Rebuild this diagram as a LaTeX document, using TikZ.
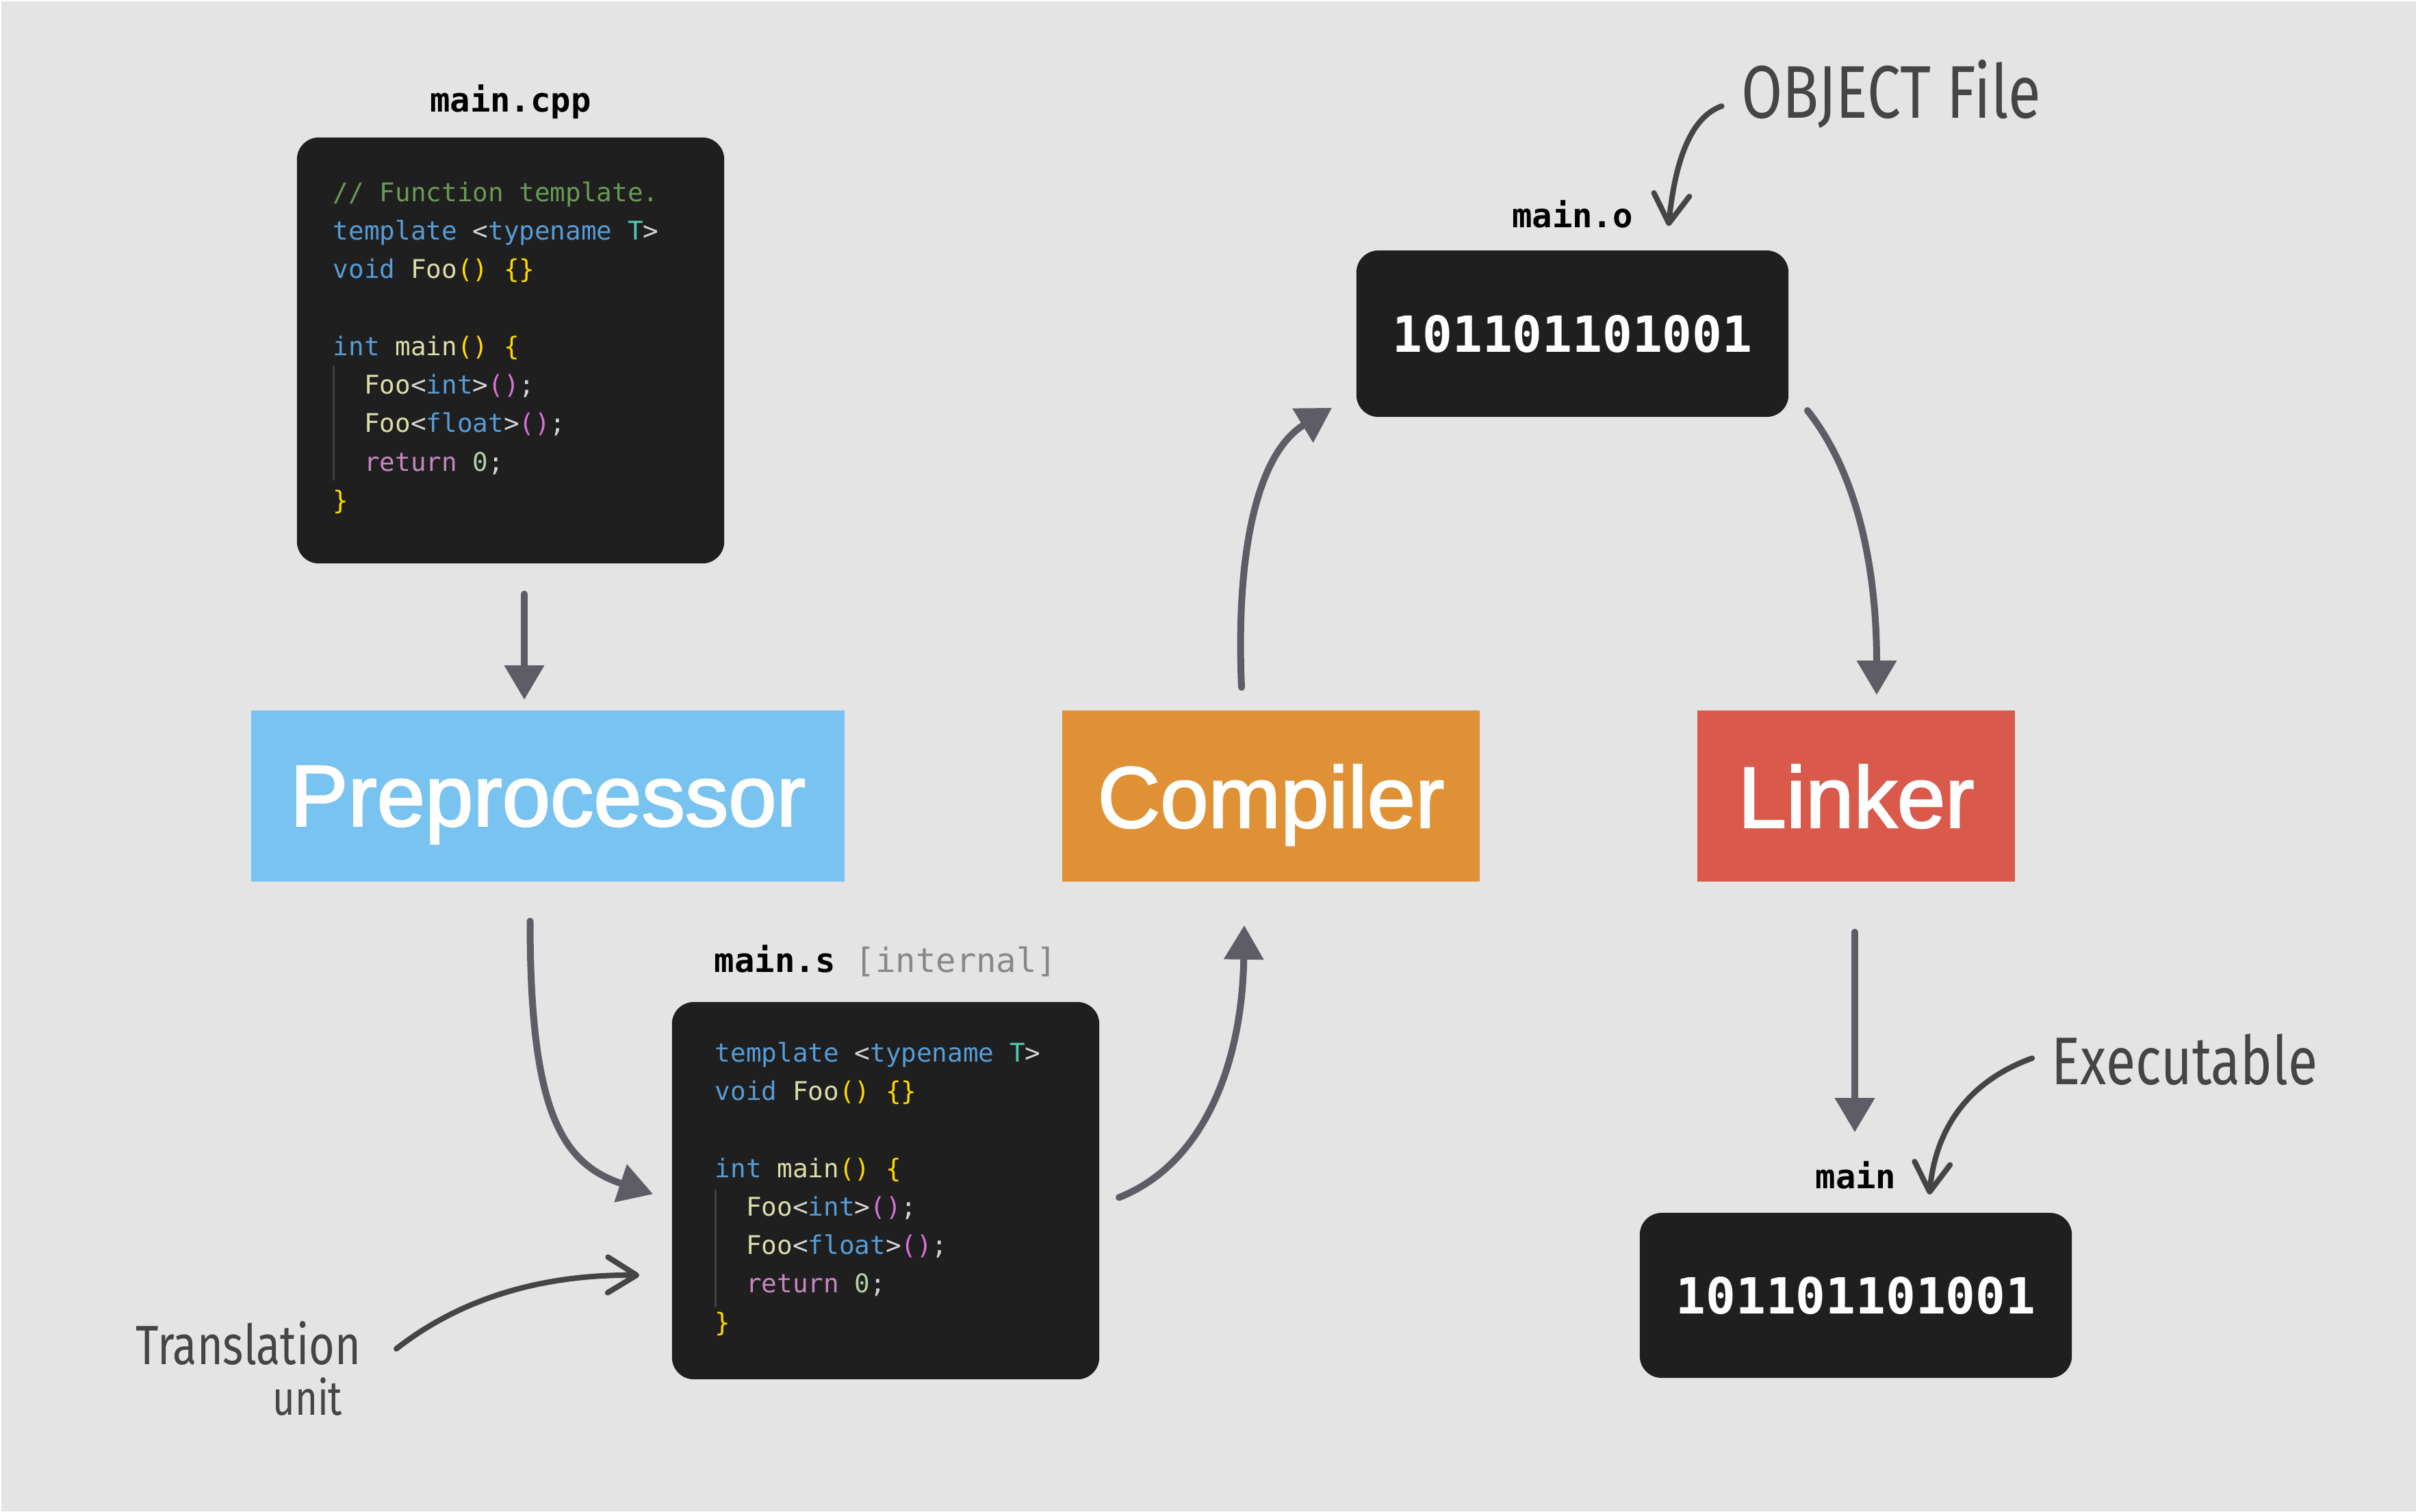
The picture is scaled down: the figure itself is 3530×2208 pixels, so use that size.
\documentclass[tikz,border=0pt]{standalone}
\usepackage{fontspec}
\setmonofont{DejaVu Sans Mono}
\newfontfamily\stagefont{Liberation Sans}[FakeBold=2]
\newfontfamily\handfont{Fira Sans}[FakeStretch=0.8]
\usetikzlibrary{arrows.meta, calc, positioning}

\definecolor{bggray}{HTML}{E4E4E4}
\definecolor{boxblack}{HTML}{1F1F1F}
\definecolor{flowgray}{HTML}{5E5D66}
\definecolor{notegray}{HTML}{454545}
\definecolor{preblue}{HTML}{78C3F0}
\definecolor{comporange}{HTML}{E09136}
\definecolor{linkred}{HTML}{D9594A}
\definecolor{kwblue}{HTML}{569CD6}
\definecolor{tpteal}{HTML}{4EC9B0}
\definecolor{fnyellow}{HTML}{DCDCAA}
\definecolor{brgold}{HTML}{FFD700}
\definecolor{brpink}{HTML}{DA70D6}
\definecolor{ctlpurple}{HTML}{C586C0}
\definecolor{numgreen}{HTML}{B5CEA8}
\definecolor{cmtgreen}{HTML}{6A9955}
\definecolor{codegray}{HTML}{D4D4D4}
\definecolor{intgray}{HTML}{888888}
\definecolor{guidegray}{HTML}{404040}

% syntax colours for the code boxes
\newcommand\cKw[1]{\textcolor{kwblue}{#1}}
\newcommand\cTp[1]{\textcolor{tpteal}{#1}}
\newcommand\cFn[1]{\textcolor{fnyellow}{#1}}
\newcommand\cBy[1]{\textcolor{brgold}{#1}}
\newcommand\cBm[1]{\textcolor{brpink}{#1}}
\newcommand\cCt[1]{\textcolor{ctlpurple}{#1}}
\newcommand\cNm[1]{\textcolor{numgreen}{#1}}
\newcommand\cCm[1]{\textcolor{cmtgreen}{#1}}
\newcommand\cPu[1]{\textcolor{codegray}{#1}}
\newcommand\cInd{\hphantom{00}}

\begin{document}
\begin{tikzpicture}[x=0.01cm, y=-0.01cm,
    codebox/.style={fill=boxblack, rounded corners=0.32cm, inner sep=0pt},
    stagebox/.style={minimum height=2.5cm, inner sep=0pt, text depth=0pt,
        text=white, font=\stagefont\fontsize{36}{36}\selectfont},
    lbl/.style={anchor=base, inner sep=0pt,
        font=\ttfamily\bfseries\fontsize{13.9}{16}\selectfont},
    codetext/.style={anchor=north west, inner sep=0pt, align=left, text=codegray,
        font=\ttfamily\fontsize{10.7}{16}\selectfont},
    bits/.style={text=white, font=\ttfamily\bfseries\fontsize{20.7}{24}\selectfont},
    flow/.style={draw=flowgray, line width=0.1cm, line cap=round,
        -{Triangle[length=0.5cm,width=0.56cm]}},
    note/.style={draw=notegray, line width=0.08cm, line cap=round,
        -{Straight Barb[round,length=0.42cm,width=0.52cm]}},
    hand/.style={text=notegray, inner sep=0pt},
    guide/.style={draw=guidegray, line width=0.03cm}]

    \fill[white] (0,0) rectangle (3530,2208);
    \fill[bggray] (2,2) rectangle (3530,2208);
    \useasboundingbox (0,0) rectangle (3530,2208);

    % stages
    \node[stagebox, fill=preblue, minimum width=8.67cm] (pre) at (800.5,1163) {Preprocessor};
    \node[stagebox, fill=comporange, minimum width=6.1cm] (comp) at (1857,1163) {Compiler};
    \node[stagebox, fill=linkred, minimum width=4.64cm] (link) at (2712,1163) {Linker};

    % source file
    \node[codebox, minimum width=6.24cm, minimum height=6.22cm] (cpp) at (746,512) {};
    \node[lbl] (cpplbl) at ($(cpp.north)+(0,-37)$) {main.cpp};
    \node[codetext] (cpptxt) at ($(cpp.north west)+(53,54)$) {\strut\cCm{// Function template.}\\
        \cKw{template} \cPu{<}\cKw{typename} \cTp{T}\cPu{>}\\
        \cKw{void} \cFn{Foo}\cBy{()} \cBy{\{\}}\\
        \mbox{}\\
        \cKw{int} \cFn{main}\cBy{()} \cBy{\{}\\
        \cInd\cFn{Foo}\cPu{<}\cKw{int}\cPu{>}\cBm{()}\cPu{;}\\
        \cInd\cFn{Foo}\cPu{<}\cKw{float}\cPu{>}\cBm{()}\cPu{;}\\
        \cInd\cCt{return} \cNm{0}\cPu{;}\\
        \cBy{\}}};
    \draw[guide] ($(cpptxt.north west)+(1,280)$) -- +(0,168);

    % translation unit
    \node[codebox, minimum width=6.24cm, minimum height=5.51cm] (asm) at (1294,1739.5) {};
    \node[lbl] (asmlbl) at ($(asm.north)+(0,-43)$) {main.s \textcolor{intgray}{\mdseries[internal]}};
    \node[codetext] (asmtxt) at ($(asm.north west)+(63,48)$) {\strut\cKw{template} \cPu{<}\cKw{typename} \cTp{T}\cPu{>}\\
        \cKw{void} \cFn{Foo}\cBy{()} \cBy{\{\}}\\
        \mbox{}\\
        \cKw{int} \cFn{main}\cBy{()} \cBy{\{}\\
        \cInd\cFn{Foo}\cPu{<}\cKw{int}\cPu{>}\cBm{()}\cPu{;}\\
        \cInd\cFn{Foo}\cPu{<}\cKw{float}\cPu{>}\cBm{()}\cPu{;}\\
        \cInd\cCt{return} \cNm{0}\cPu{;}\\
        \cBy{\}}};
    \draw[guide] ($(asmtxt.north west)+(1,227)$) -- +(0,172);

    % binaries
    \node[codebox, bits, minimum width=6.31cm, minimum height=2.43cm] (obj) at (2297.5,487.5) {101101101001};
    \node[lbl] (objlbl) at ($(obj.north)+(0,-33)$) {main.o};
    \node[codebox, bits, minimum width=6.31cm, minimum height=2.41cm] (exe) at (2711.5,1892.5) {101101101001};
    \node[lbl] (exelbl) at ($(exe.north)+(0,-35)$) {main};

    % pipeline
    \draw[flow] ($(cpp.south)+(20,44)$) -- ($(cpp.south |- pre.north)+(20,-15)$);
    \draw[flow] ($(pre.south)+(-26,57)$) .. controls +(0,275) and +(-135,-45) .. ($(asm.west)+(-27,5)$);
    \draw[flow] ($(asm.east)+(28,10)$) .. controls +(126,-50) and +(-3,199) .. ($(comp.south)+(-39,63)$);
    \draw[flow] ($(comp.north)+(-43,-33)$) .. controls +(-9,-205) and +(-107,65) .. ($(obj.south west)+(-35,-14)$);
    \draw[flow] ($(obj.south east)+(27,-10)$) .. controls +(80,101) and +(0,-166) .. ($(link.north)+(30,-22)$);
    \draw[flow] ($(link.south)+(-2,73)$) -- ($(link.south |- exe.north)+(-2,-117)$);

    % notes
    \node[hand, font=\handfont\fontsize{31}{31}\selectfont] (objnote) at (2763,137) {OBJECT File};
    \draw[note] ($(objnote.west)+(-28,18)$) .. controls +(-43,15) and +(10,-101) .. ($(obj.north east)+(-176,-35)$);
    \node[hand, font=\handfont\fontsize{28}{28}\selectfont] (exenote) at (3192,1548) {Executable};
    \draw[note] ($(exenote.west)+(-28,-2)$) .. controls +(-94,34) and +(9,-96) .. ($(exe.north)+(107.5,-26)$);
    \node[hand, align=right, anchor=north east, font=\handfont\fontsize{23}{21}\selectfont] (tunote) at (528,1930) {Translation\\{\fontsize{20}{21}\selectfont unit}\hspace*{0.27cm}};
    \draw[note] ($(tunote.east)+(51,-29)$) .. controls +(111,-87) and +(-115,-1) .. ($(asm.west)+(-47,123.5)$);
\end{tikzpicture}
\end{document}
